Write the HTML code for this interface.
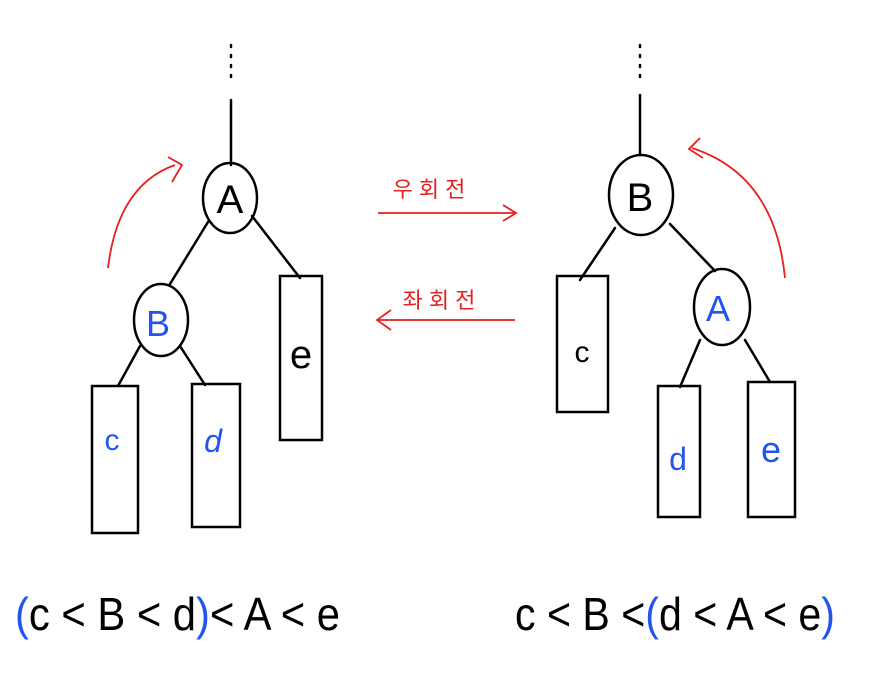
<!DOCTYPE html>
<html><head><meta charset="utf-8"><style>
html,body{margin:0;padding:0;background:#fff;}
svg{display:block;}
text{font-family:"Liberation Sans","Noto Sans CJK KR",sans-serif;}
</style></head><body>
<svg width="870" height="675" viewBox="0 0 870 675">
<g stroke="#000" stroke-width="2.5" fill="none" stroke-linecap="round">
  <line x1="231" y1="45" x2="231" y2="85" stroke-dasharray="2,8"/>
  <line x1="231" y1="100" x2="231" y2="165"/>
  <ellipse cx="230" cy="198" rx="27" ry="35"/>
  <line x1="208" y1="222" x2="170" y2="284"/>
  <line x1="252" y1="216" x2="300" y2="278"/>
  <ellipse cx="161" cy="320" rx="27" ry="36"/>
  <rect x="280" y="276" width="42" height="164"/>
  <line x1="140" y1="346" x2="118" y2="386"/>
  <line x1="180" y1="346" x2="205" y2="385"/>
  <rect x="92" y="386" width="46" height="147"/>
  <rect x="192" y="384" width="48" height="143"/>
</g>
<text x="230" y="213" font-size="40" text-anchor="middle" fill="#000">A</text>
<text x="158" y="336" font-size="36" text-anchor="middle" fill="#2255ee">B</text>
<text x="301" y="368" font-size="40" text-anchor="middle" fill="#000">e</text>
<text x="112" y="450" font-size="30" text-anchor="middle" fill="#2255ee">c</text>
<text x="213" y="452" font-size="32" text-anchor="middle" fill="#2255ee" font-style="italic">d</text>
<path d="M108 268 Q118 185 175 165" stroke="#e52020" stroke-width="1.8" fill="none"/>
<path d="M168 157 L182 165 L172 182" stroke="#e52020" stroke-width="1.8" fill="none"/>

<text x="432" y="197" font-size="22" text-anchor="middle" fill="#e52020" letter-spacing="6">우회전</text>
<line x1="378" y1="213" x2="515" y2="213" stroke="#e52020" stroke-width="1.8"/>
<path d="M503 205 L516 213 L503 221" stroke="#e52020" stroke-width="1.8" fill="none"/>
<text x="442" y="308" font-size="22" text-anchor="middle" fill="#e52020" letter-spacing="6">좌회전</text>
<line x1="378" y1="320" x2="515" y2="320" stroke="#e52020" stroke-width="1.8"/>
<path d="M391 310 L377 320 L391 330" stroke="#e52020" stroke-width="1.8" fill="none"/>

<g stroke="#000" stroke-width="2.5" fill="none" stroke-linecap="round">
  <line x1="640" y1="45" x2="640" y2="80" stroke-dasharray="2,8"/>
  <line x1="640" y1="95" x2="640" y2="155"/>
  <ellipse cx="641" cy="195" rx="32" ry="40"/>
  <line x1="615" y1="228" x2="580" y2="280"/>
  <line x1="670" y1="224" x2="715" y2="271"/>
  <rect x="557" y="276" width="51" height="136"/>
  <ellipse cx="722" cy="307" rx="28" ry="38"/>
  <line x1="700" y1="340" x2="680" y2="387"/>
  <line x1="745" y1="340" x2="770" y2="382"/>
  <rect x="658" y="386" width="42" height="131"/>
  <rect x="748" y="382" width="47" height="135"/>
</g>
<text x="640" y="211" font-size="40" text-anchor="middle" fill="#000">B</text>
<text x="718" y="321" font-size="36" text-anchor="middle" fill="#2255ee">A</text>
<text x="582" y="362" font-size="30" text-anchor="middle" fill="#000">c</text>
<text x="678" y="470" font-size="32" text-anchor="middle" fill="#2255ee">d</text>
<text x="771" y="462" font-size="36" text-anchor="middle" fill="#2255ee">e</text>
<path d="M785 278 Q775 175 692 148" stroke="#e52020" stroke-width="1.8" fill="none"/>
<path d="M700 138 L689 149 L703 158" stroke="#e52020" stroke-width="1.8" fill="none"/>

<text x="15" y="630" font-size="46" textLength="325" lengthAdjust="spacingAndGlyphs" fill="#000"><tspan fill="#2255ee">(</tspan>c &lt; B &lt; d<tspan fill="#2255ee">)</tspan>&lt; A &lt; e</text>
<text x="515" y="630" font-size="46" textLength="320" lengthAdjust="spacingAndGlyphs" fill="#000">c &lt; B &lt;<tspan fill="#2255ee">(</tspan>d &lt; A &lt; e<tspan fill="#2255ee">)</tspan></text>
</svg>
</body></html>
